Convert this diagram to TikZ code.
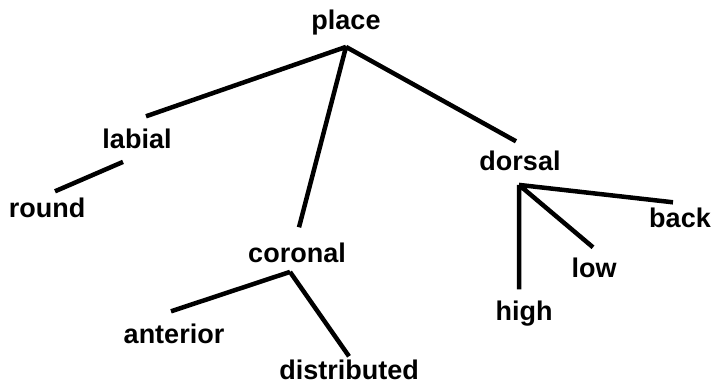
\documentclass[tikz,border=0pt]{standalone}
\usepackage{fontspec}
\setmainfont{Liberation Sans}
\usepackage{tikz}

\begin{document}
\begin{tikzpicture}[x=1pt,y=-1pt,
        feat/.style={anchor=base,inner sep=0pt,text height=19.5pt,text depth=5.7pt,
                     font=\fontsize{27}{30}\selectfont\bfseries},
        branch/.style={line width=4.5pt,line cap=butt}]
      \useasboundingbox (0,0) rectangle (711,385);
      % feature nodes, placed on their baselines
      \node [feat] (place)       at (346,30)  {place};
      \node [feat] (labial)      at (137,148) {labial};
      \node [feat] (round)       at (47,217)  {round};
      \node [feat] (coronal)     at (297,262) {coronal};
      \node [feat] (anterior)    at (174,343) {anterior};
      \node [feat] (distributed) at (349,379) {distributed};
      \node [feat] (dorsal)      at (520,170) {dorsal};
      \node [feat] (high)        at (524,320) {high};
      \node [feat] (low)         at (594,277) {low};
      \node [feat] (back)        at (680,227) {back};
      % branching points under the mother nodes
      \coordinate (place-b)   at ([yshift=-11pt]place.south);
      \coordinate (coronal-b) at ([xshift=-7pt,yshift=-4pt]coronal.south);
      \coordinate (dorsal-b)  at ([xshift=-1pt,yshift=-9pt]dorsal.south);
      \path[branch,draw]
      (place-b) -- ([xshift=9pt,yshift=12pt]labial.north)
      (place-b) -- ([xshift=2pt,yshift=15pt]coronal.north)
      (place-b) -- ([xshift=-4pt,yshift=9pt]dorsal.north)
      ([xshift=-14pt,yshift=-8pt]labial.south) -- ([xshift=8pt,yshift=6pt]round.north)
      (coronal-b) -- ([xshift=-3pt,yshift=12pt]anterior.north)
      (coronal-b) -- ([yshift=3pt]distributed.north)
      (dorsal-b) -- ([xshift=-5pt,yshift=11pt]high.north)
      (dorsal-b) -- ([xshift=-1pt,yshift=10pt]low.north)
      (dorsal-b) -- ([xshift=-7pt,yshift=5pt]back.north);
    \end{tikzpicture}
\end{document}
